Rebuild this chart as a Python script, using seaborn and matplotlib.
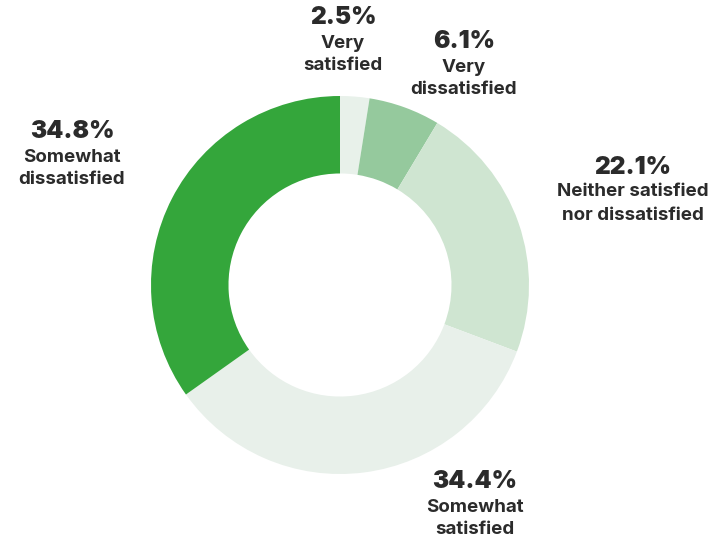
import matplotlib
matplotlib.use("Agg")
import matplotlib.pyplot as plt
import seaborn as sns

# Survey response shares (percent), in clockwise order from 12 o'clock
categories = ["Very\nsatisfied", "Very\ndissatisfied", "Neither satisfied\nnor dissatisfied",
              "Somewhat\nsatisfied", "Somewhat\ndissatisfied"]
shares = [2.5, 6.1, 22.1, 34.4, 34.8]
colors = ["#e8f1ea", "#95c99d", "#cfe5d1", "#e8f0ea", "#34a63b"]

# Label anchor points (pixel coords, origin top-left) for the percentage line
label_pos = [(343, 18), (464, 42), (633, 167), (475, 482), (72, 132)]

sns.set_theme(style="white")
plt.rcParams["font.family"] = ["Inter", "DejaVu Sans"]

W, H = 715, 541
fig = plt.figure(figsize=(W / 100, H / 100), dpi=100)
ax = fig.add_axes([0, 0, 1, 1])

cx, cy, r = 340, H - 285, 189
ax.pie(shares, colors=colors, startangle=90, counterclock=False,
       center=(cx, cy), radius=r, frame=True,
       wedgeprops=dict(width=r * 0.41, linewidth=0))
ax.set_xlim(0, W)
ax.set_ylim(0, H)
ax.set_aspect("equal")
ax.axis("off")

txt = "#2b2b2b"
for (x, y), name, val in zip(label_pos, categories, shares):
    ax.text(x, H - y, f"{val:.1f}%", ha="center", va="center",
            fontsize=17.5, fontweight="black", color=txt)
    for i, line in enumerate(name.split("\n")):
        ax.text(x, H - y - 25 - 23 * i, line, ha="center", va="center",
                fontsize=13.5, fontweight="bold", color=txt)

fig.savefig("out.png", dpi=100, facecolor="white")
